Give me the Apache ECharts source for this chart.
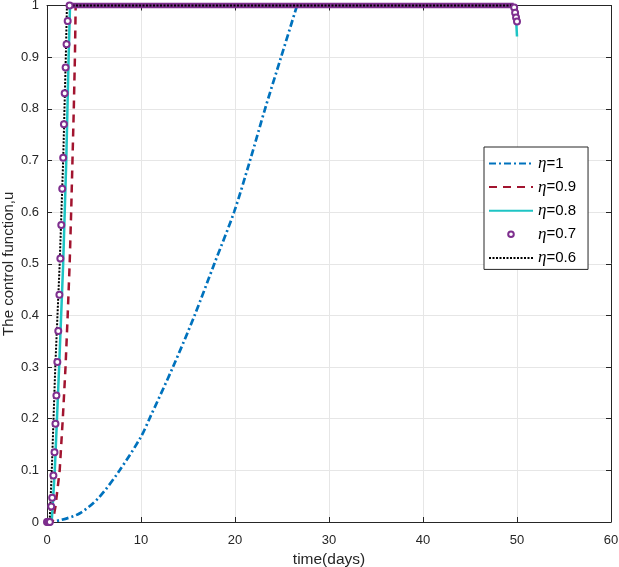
<!DOCTYPE html>
<html>
<head>
<meta charset="utf-8">
<script src="https://cdn.jsdelivr.net/npm/echarts@6/dist/echarts.min.js"></script>
<style>html,body{margin:0;padding:0;background:#fff}#c{width:619px;height:567px}</style>
</head>
<body>
<div id="c"></div>
<script>
// ---- data ----
const xTicks = [0, 10, 20, 30, 40, 50, 60];
const yTicks = [0, 0.1, 0.2, 0.3, 0.4, 0.5, 0.6, 0.7, 0.8, 0.9, 1];
const names = ['η=1', 'η=0.9', 'η=0.8', 'η=0.7', 'η=0.6'];

const eta1Rise = [[0,0],[1.5,0.004],[3.5,0.017],[5.5,0.047],[7.73,0.1],[10,0.165],[10.9,0.2],[13.4,0.3],[15.7,0.4],[17.8,0.5],[19.9,0.6],[21.6,0.7],[23.2,0.8],[24.9,0.9],[26.6,1]];
const eta1Flat = [[26.6,1],[49.8,1],[50,0.98]];
const eta09 = [[0,0],[0.6,0],[0.9,0.03],[1.35,0.1],[1.68,0.2],[1.97,0.3],[2.2,0.4],[2.41,0.5],[2.57,0.6],[2.71,0.7],[2.85,0.8],[2.97,0.9],[3.05,1],[49.8,1],[50,0.98]];
const eta08 = [[0,0],[0.5,0],[0.83,0.1],[1.29,0.3],[1.72,0.5],[2.05,0.7],[2.3,0.9],[2.45,1],[49.75,1],[49.9,0.975],[50,0.94]];
const eta07T = [0,0.1,0.2,0.3,0.45,0.55,0.68,0.8,0.9,1.0,1.1,1.2,1.32,1.42,1.52,1.62,1.72,1.8,1.88,1.98,2.08,2.2,2.4,49.7,49.8,49.9,50];
const eta07U = [0,0,0,0,0.03,0.047,0.09,0.135,0.19,0.245,0.31,0.37,0.44,0.51,0.575,0.645,0.705,0.77,0.83,0.88,0.925,0.97,1.0,0.996,0.986,0.977,0.969];
const eta07Plateau = [[2.4,1],[49.65,1]];
const eta06 = [[0,0],[0.28,0],[0.51,0.1],[0.88,0.3],[1.35,0.5],[1.72,0.7],[2.0,0.9],[2.12,1],[49.6,1],[49.8,0.99],[49.95,0.975]];

const eta07 = eta07T.map((t, i) => [t, eta07U[i]]);

const axisCol = '#262626';
const purple = '#7E2F8E';
const blue = '#0072BD';
const chart = echarts.init(document.getElementById('c'), null, {renderer: 'canvas'});
const sans = 'Liberation Sans, Arial, sans-serif';

chart.setOption({
  animation: false,
  backgroundColor: '#fff',
  grid: {left: 47, right: 8, top: 5.5, bottom: 45, containLabel: false, outerBoundsMode: 'none'},
  xAxis: [{
    type: 'value', min: xTicks[0], max: xTicks[xTicks.length-1], interval: 10,
    name: 'time(days)', nameLocation: 'middle', nameGap: 29,
    nameTextStyle: {fontFamily: sans, fontSize: 15.5, color: axisCol},
    axisLine: {show: true, onZero: false, lineStyle: {color: axisCol, width: 1}},
    axisTick: {show: true, inside: true, length: 5, lineStyle: {color: axisCol}},
    axisLabel: {fontFamily: sans, fontSize: 13, color: axisCol, margin: 12},
    splitLine: {show: true, lineStyle: {color: '#e6e6e6', width: 1}}
  }, {
    type: 'value', position: 'top', min: 0, max: 60, interval: 10,
    axisLine: {show: true, onZero: false, lineStyle: {color: axisCol, width: 1}},
    axisTick: {show: true, inside: true, length: 5, lineStyle: {color: axisCol}},
    axisLabel: {show: false}, splitLine: {show: false}
  }],
  yAxis: [{
    type: 'value', min: yTicks[0], max: yTicks[yTicks.length-1], interval: 0.1,
    name: 'The control function,u', nameLocation: 'middle', nameGap: 31, nameMoveOverlap: false,
    nameTextStyle: {fontFamily: sans, fontSize: 15, color: axisCol},
    axisLine: {show: true, onZero: false, lineStyle: {color: axisCol, width: 1}},
    axisTick: {show: true, inside: true, length: 5, lineStyle: {color: axisCol}},
    axisLabel: {fontFamily: sans, fontSize: 13, color: axisCol, margin: 8,
      formatter: v => String(Math.round(v * 10) / 10)},
    splitLine: {show: true, lineStyle: {color: '#e6e6e6', width: 1}}
  }, {
    type: 'value', position: 'right', min: 0, max: 1, interval: 0.1,
    axisLine: {show: true, onZero: false, lineStyle: {color: axisCol, width: 1}},
    axisTick: {show: true, inside: true, length: 5, lineStyle: {color: axisCol}},
    axisLabel: {show: false}, splitLine: {show: false}
  }],
  legend: {
    orient: 'vertical', left: 484, top: 147,
    padding: [8, 12, 3, 4], itemGap: 6.6, itemWidth: 44, itemHeight: 7,
    backgroundColor: '#fff', borderColor: axisCol, borderWidth: 1, borderRadius: 0,
    data: [
      {name: names[0], itemStyle: {opacity: 0}},
      {name: names[1], itemStyle: {opacity: 0}},
      {name: names[2], itemStyle: {opacity: 0}},
      {name: names[3], lineStyle: {opacity: 0}},
      {name: names[4], itemStyle: {opacity: 0}}
    ],
    formatter: n => '{e|η}{t|' + n.slice(1) + '}',
    textStyle: {
      color: '#000',
      rich: {
        e: {fontFamily: 'Liberation Serif, serif', fontStyle: 'italic', fontSize: 17, color: '#000'},
        t: {fontFamily: sans, fontSize: 15, color: '#000'}
      }
    }
  },
  series: [
    {name: names[0], type: 'line', data: eta1Rise, showSymbol: false, symbol: 'none',
      smooth: 0.3,
      lineStyle: {color: blue, width: 2.7, type: [7, 3, 2, 3]}, itemStyle: {color: blue}},
    {name: names[0], type: 'line', data: eta1Flat, showSymbol: false, symbol: 'none',
      lineStyle: {color: blue, width: 2.7, type: [7, 3, 2, 3]}, itemStyle: {color: blue}},
    {name: names[1], type: 'line', data: eta09, showSymbol: false, symbol: 'none',
      lineStyle: {color: '#A2142F', width: 2.5, type: [8, 6]}, itemStyle: {color: '#A2142F'}},
    {name: names[2], type: 'line', data: eta08, showSymbol: false, symbol: 'none', clip: false,
      lineStyle: {color: '#1EC4C4', width: 2.5}, itemStyle: {color: '#1EC4C4'}},
    {name: 'plateau07', type: 'line', data: eta07Plateau, showSymbol: false, symbol: 'none', clip: false,
      lineStyle: {color: purple, width: 5.5}, silent: true},
    {name: names[3], type: 'line', data: eta07, symbol: 'emptyCircle', symbolSize: 6, showSymbol: true,
      showAllSymbol: true, clip: false,
      lineStyle: {width: 0, color: purple},
      itemStyle: {color: purple, borderColor: purple, borderWidth: 2}},
    {name: names[4], type: 'line', data: eta06, showSymbol: false, symbol: 'none', clip: false,
      lineStyle: {color: '#000', width: 2, type: [2, 1.5]}, itemStyle: {color: '#000'}}
  ]
});
</script>
</body>
</html>
